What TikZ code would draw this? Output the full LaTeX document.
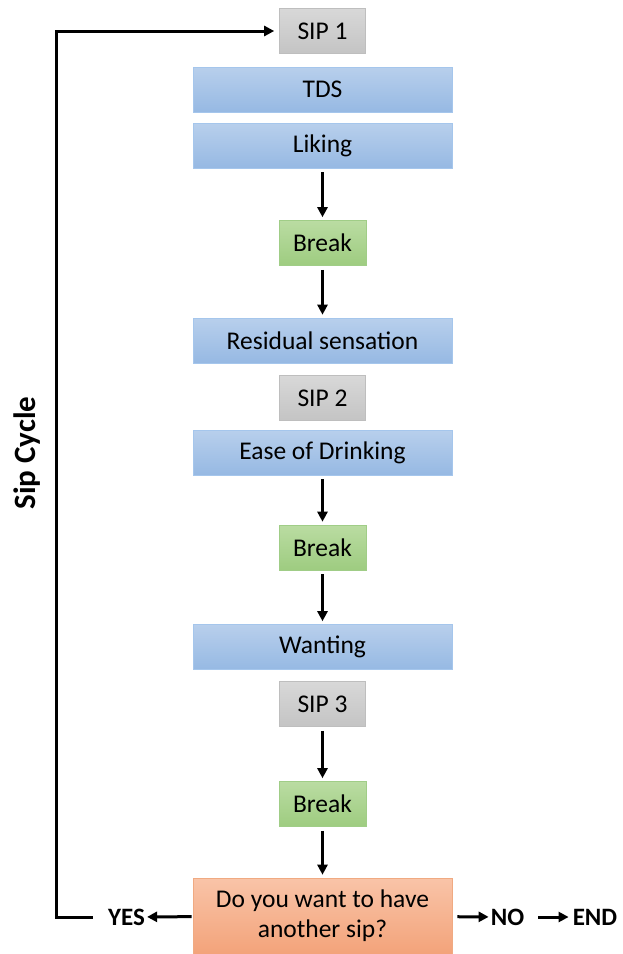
\documentclass[tikz,border=0pt]{standalone}
\usepackage{fontspec}
\setmainfont{Carlito}
\usetikzlibrary{arrows.meta}
\definecolor{bluetop}{RGB}{184,207,236}
\definecolor{bluebot}{RGB}{150,185,227}
\definecolor{blueline}{RGB}{165,198,236}
\definecolor{graytop}{RGB}{216,216,216}
\definecolor{graybot}{RGB}{196,196,196}
\definecolor{grayline}{RGB}{190,190,190}
\definecolor{greentop}{RGB}{186,220,162}
\definecolor{greenbot}{RGB}{158,204,128}
\definecolor{greenline}{RGB}{160,205,135}
\definecolor{orangetop}{RGB}{249,196,168}
\definecolor{orangebot}{RGB}{243,163,122}
\definecolor{orangeline}{RGB}{240,170,130}
\tikzset{
  box/.style={minimum height=45pt, inner sep=0pt, line width=0.6pt,
    font=\fontsize{25.5}{30}\selectfont, align=center},
  sipbox/.style={box, minimum width=86pt, draw=grayline, top color=graytop, bottom color=graybot},
  taskbox/.style={box, minimum width=259pt, draw=blueline, top color=bluetop, bottom color=bluebot},
  breakbox/.style={box, minimum width=87pt, draw=greenline, top color=greentop, bottom color=greenbot},
  askbox/.style={box, minimum width=259pt, minimum height=76pt, draw=orangeline, top color=orangetop, bottom color=orangebot},
  answer/.style={inner sep=1pt, font=\fontsize{25}{30}\selectfont\bfseries},
  flow/.style={line width=3pt, -{Triangle[length=10pt,width=10pt]}}
}
\begin{document}
\begin{tikzpicture}[x=1pt, y=-1pt]
    \useasboundingbox (0,0) rectangle (623,954);
    % first sip
    \node[sipbox] (sip1) at (322.5,31) {SIP 1};
    \node[taskbox] (tds) at (322.5,89.5) {TDS};
    \node[taskbox] (liking) at (322.5,145.5) {Liking};
    \node[breakbox] (brk1) at (322.5,243) {Break};
    \node[taskbox] (resid) at (322.5,340.5) {Residual sensation};
    % second sip
    \node[sipbox] (sip2) at (322.5,398) {SIP 2};
    \node[taskbox] (ease) at (322.5,452.5) {Ease of Drinking};
    \node[breakbox] (brk2) at (322.5,547.5) {Break};
    \node[taskbox] (want) at (322.5,647) {Wanting};
    % third sip
    \node[sipbox] (sip3) at (322.5,704) {SIP 3};
    \node[breakbox] (brk3) at (322.5,804) {Break};
    \node[askbox] (ask) at (322.5,916) {Do you want to have\\another sip?};
    % answers
    \node[answer] (yes) at (126.5,917) {YES};
    \node[answer] (no) at (507.5,917) {NO};
    \node[answer] (end) at (595,917) {END};
    \node[rotate=90, font=\fontsize{31}{36}\selectfont\bfseries] (cycle) at (27,453) {Sip Cycle};
    \coordinate (loop) at (56,31);
    % arrows down the column
    \foreach \a/\b in {liking/brk1, brk1/resid, ease/brk2, brk2/want, sip3/brk3, brk3/ask}
        \draw[flow, shorten <=4pt, shorten >=3pt] (\a) -- (\b);
    \draw[flow, shorten <=1pt, shorten >=1pt] (ask) -- (yes);
    \draw[flow, shorten <=5pt, shorten >=1pt] (ask) -- (no);
    \draw[flow, shorten <=13pt, shorten >=3pt] (no) -- (end);
    % back to the first sip
    \draw[flow, shorten <=14pt, shorten >=5pt] (yes.west) -| (loop) -- (sip1.west);
\end{tikzpicture}
\end{document}
